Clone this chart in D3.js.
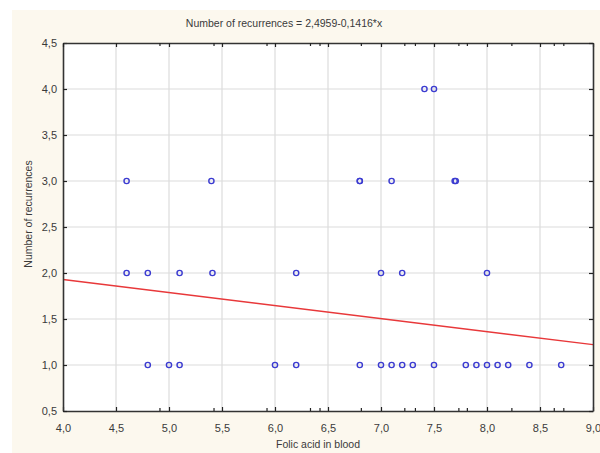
<!DOCTYPE html>
<html>
<head>
<meta charset="utf-8">
<script src="https://cdn.jsdelivr.net/npm/d3@7"></script>
<style>
  html, body { margin: 0; padding: 0; background: #ffffff; }
  svg { display: block; }
  text { font-family: "Liberation Sans", Arial, sans-serif; fill: #3a3a3a; }
</style>
</head>
<body>
<svg id="chart" width="600" height="453"></svg>
<script>
// ---- data ----
const folicAcid = [
  4.6, 5.4, 6.8, 6.8, 7.1, 7.695, 7.705, 7.41, 7.5,
  4.6, 4.8, 5.1, 5.41, 6.2, 7.0, 7.2, 8.0,
  4.8, 5.0, 5.1, 6.0, 6.2, 6.8, 7.0, 7.1, 7.2, 7.3, 7.5, 7.8, 7.9, 8.0, 8.1, 8.2, 8.4, 8.7
];
const recurrences = [
  3, 3, 3, 3, 3, 3, 3, 4, 4,
  2, 2, 2, 2, 2, 2, 2, 2,
  1, 1, 1, 1, 1, 1, 1, 1, 1, 1, 1, 1, 1, 1, 1, 1, 1, 1
];
const xTicks = [4.0, 4.5, 5.0, 5.5, 6.0, 6.5, 7.0, 7.5, 8.0, 8.5, 9.0];
const xTickLabels = ["4,0", "4,5", "5,0", "5,5", "6,0", "6,5", "7,0", "7,5", "8,0", "8,5", "9,0"];
const yTicks = [0.5, 1.0, 1.5, 2.0, 2.5, 3.0, 3.5, 4.0, 4.5];
const yTickLabels = ["0,5", "1,0", "1,5", "2,0", "2,5", "3,0", "3,5", "4,0", "4,5"];
const xMinorTicks = [4.91, 5.42, 5.92, 6.33, 6.42, 6.81, 7.22, 7.32, 7.73, 7.81, 8.23, 8.63, 8.72];
const intercept = 2.4959;
const slope = -0.1416;
const titleText = "Number of recurrences  = 2,4959-0,1416*x";
const xTitle = "Folic acid in blood";
const yTitle = "Number of recurrences";

// ---- layout ----
const svg = d3.select("#chart");
const L = 63, R = 593, T = 43, B = 411;

svg.append("rect").attr("x", 12).attr("y", 10).attr("width", 588).attr("height", 443)
  .attr("fill", "#fcf8ee");
svg.append("rect").attr("x", L).attr("y", T).attr("width", R - L).attr("height", B - T)
  .attr("fill", "#ffffff");

const x = d3.scaleLinear().domain([4, 9]).range([L, R]);
const y = d3.scaleLinear().domain([0.5, 4.5]).range([B, T]);

// grid
const g = svg.append("g");
g.selectAll(".vg").data(xTicks.slice(1, -1)).enter().append("line")
  .attr("x1", d => x(d)).attr("x2", d => x(d)).attr("y1", T).attr("y2", B)
  .attr("stroke", "#dcdcdc").attr("stroke-width", 1.2);
g.selectAll(".hg").data(yTicks.slice(1, -1)).enter().append("line")
  .attr("y1", d => y(d)).attr("y2", d => y(d)).attr("x1", L).attr("x2", R)
  .attr("stroke", "#dcdcdc").attr("stroke-width", 1.2);

// regression line
svg.append("line")
  .attr("x1", x(4)).attr("y1", y(intercept + slope * 4))
  .attr("x2", x(9)).attr("y2", y(intercept + slope * 9))
  .attr("stroke", "#e8383a").attr("stroke-width", 1.4);

// points
svg.append("g").selectAll("circle").data(folicAcid).enter().append("circle")
  .attr("cx", (d) => x(d)).attr("cy", (d, i) => y(recurrences[i]))
  .attr("r", 2.6).attr("fill", "none").attr("stroke", "#3b3bd0").attr("stroke-width", 1.4);

// axes (ticks inside)
const fmtX = (d) => xTickLabels[xTicks.indexOf(d)];
const fmtY = (d) => yTickLabels[yTicks.indexOf(d)];
svg.append("g").attr("transform", `translate(0,${B})`)
  .call(d3.axisBottom(x).tickValues(xTicks).tickFormat(fmtX).tickSizeInner(-4).tickSizeOuter(0).tickPadding(13));
svg.append("g").attr("transform", `translate(${L},0)`)
  .call(d3.axisLeft(y).tickValues(yTicks).tickFormat(fmtY).tickSizeInner(-4).tickSizeOuter(0).tickPadding(6));
svg.append("g").attr("transform", `translate(0,${T})`)
  .call(d3.axisTop(x).tickValues(xTicks).tickFormat("").tickSizeInner(-4).tickSizeOuter(0));
svg.append("g").attr("transform", `translate(${R},0)`)
  .call(d3.axisRight(y).tickValues(yTicks).tickFormat("").tickSizeInner(-4).tickSizeOuter(0));
svg.append("g").attr("transform", `translate(0,${B})`)
  .call(d3.axisBottom(x).tickValues(xMinorTicks).tickFormat("").tickSizeInner(-3).tickSizeOuter(0))
  .select(".domain").remove();
svg.append("g").attr("transform", `translate(0,${T})`)
  .call(d3.axisTop(x).tickValues(xMinorTicks).tickFormat("").tickSizeInner(-3).tickSizeOuter(0))
  .select(".domain").remove();

svg.selectAll(".domain").attr("stroke", "#333").attr("stroke-width", 1.6);
svg.selectAll(".tick line").attr("stroke", "#222").attr("stroke-width", 1.2);
svg.selectAll(".tick text").attr("font-size", 11).attr("fill", "#3a3a3a")
  .attr("font-family", "Liberation Sans, Arial, sans-serif");

// titles
svg.append("text").attr("x", 284).attr("y", 27).attr("text-anchor", "middle")
  .attr("font-size", 10.5).text(titleText);
svg.append("text").attr("x", 318).attr("y", 448).attr("text-anchor", "middle")
  .attr("font-size", 10.5).text(xTitle);
svg.append("text").attr("transform", "translate(32,214) rotate(-90)").attr("text-anchor", "middle")
  .attr("font-size", 10.5).text(yTitle);
</script>
</body>
</html>
